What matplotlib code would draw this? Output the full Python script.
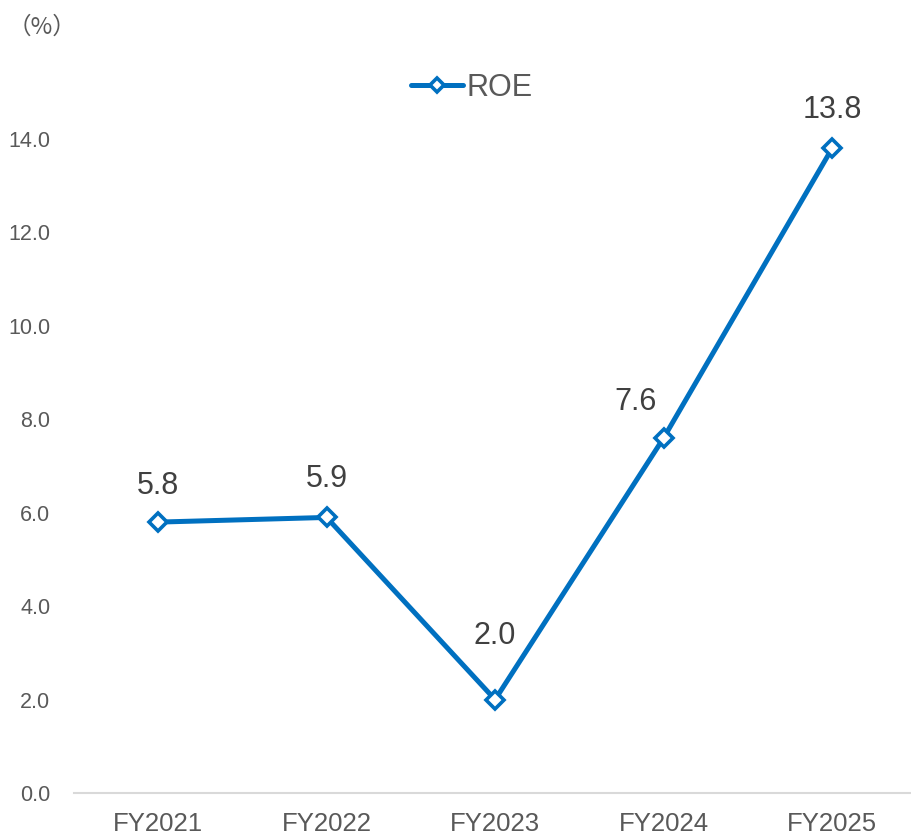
import matplotlib

matplotlib.use("Agg")
import matplotlib.pyplot as plt

years = ["FY2021", "FY2022", "FY2023", "FY2024", "FY2025"]
roe = [5.8, 5.9, 2.0, 7.6, 13.8]
y_ticks = [0, 2, 4, 6, 8, 10, 12, 14]

# per-label offsets in points (dx, dy), mimicking the original placement
label_offsets = [(0, 26), (0, 28), (0, 46), (-20, 26), (0, 28)]

plt.rcParams["font.family"] = ["Liberation Sans", "DejaVu Sans"]

BLUE = "#0070C0"
TICK_GREY = "#595959"
LABEL_GREY = "#404040"

fig = plt.figure(figsize=(9.12, 8.36), dpi=100)
axis = fig.add_axes([0.081, 0.0514, 0.923, 0.894])

x = list(range(len(years)))
axis.plot(
    x,
    roe,
    color=BLUE,
    linewidth=3.6,
    marker="D",
    markersize=9.5,
    markerfacecolor="white",
    markeredgecolor=BLUE,
    markeredgewidth=2.6,
    label="ROE",
    solid_capstyle="round",
)

for xi, value, (dx, dy) in zip(x, roe, label_offsets):
    axis.annotate(
        f"{value:.1f}",
        (xi, value),
        xytext=(dx, dy),
        textcoords="offset points",
        ha="center",
        va="center",
        fontsize=22,
        color=LABEL_GREY,
    )

axis.set_xlim(-0.5, 4.496)
axis.set_ylim(0, 16)
axis.set_xticks(x, years)
axis.set_yticks(y_ticks, [f"{v:.1f}" for v in y_ticks])
axis.tick_params(axis="x", length=0, labelsize=18.5, colors=TICK_GREY, pad=14)
axis.tick_params(axis="y", length=0, labelsize=15.5, colors=TICK_GREY, pad=17)
for side in ("top", "right", "left"):
    axis.spines[side].set_visible(False)
axis.spines["bottom"].set_color("#D9D9D9")
axis.spines["bottom"].set_linewidth(1.5)

legend = axis.legend(
    loc="center",
    bbox_to_anchor=(472 / 912, 1 - 88 / 836),
    bbox_transform=fig.transFigure,
    frameon=False,
    fontsize=22,
    handlelength=1.7,
    handletextpad=0.1,
    markerscale=0.8,
)
for text in legend.get_texts():
    text.set_color(TICK_GREY)

fig.text(
    8 / 912,
    1 - 27 / 836,
    "（%）",
    fontsize=17,
    color=TICK_GREY,
    va="center",
    ha="left",
    family=["Noto Sans CJK JP", "DejaVu Sans"],
)

fig.savefig("out.png", dpi=100, facecolor="white")
plt.close(fig)
